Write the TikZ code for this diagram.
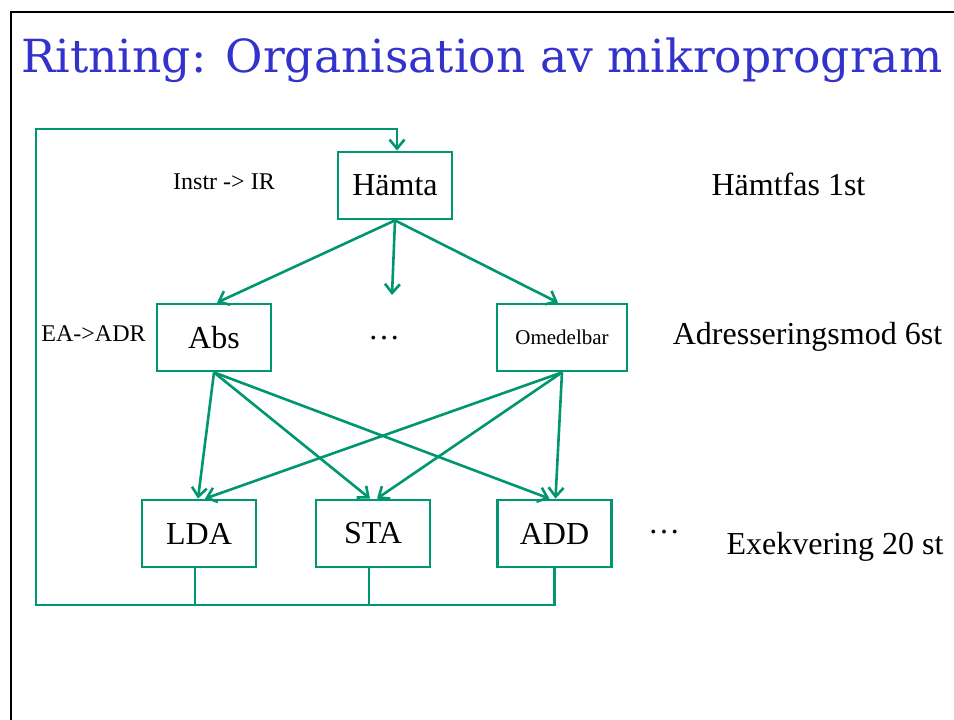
\documentclass[tikz,border=0pt]{standalone}
\usepackage{fontspec}
\setmainfont{Liberation Serif}
\newfontfamily\titlefont{DejaVu Serif}
\usetikzlibrary{arrows.meta}
\definecolor{flow}{RGB}{0,150,112}
\definecolor{heading}{RGB}{51,51,204}
\tikzset{
  stage/.style={draw=flow, line width=2.8pt, minimum width=114pt, minimum height=67pt,
                inner sep=0pt, font=\fontsize{32}{38}\selectfont},
  wide/.style={minimum width=130pt},
  note/.style={inner sep=0pt, font=\fontsize{32}{38}\selectfont},
  small/.style={inner sep=0pt, font=\fontsize{24}{28}\selectfont},
  link/.style={draw=flow, line width=2.6pt, -{Straight Barb[length=9pt,width=15pt,line width=2.6pt]}},
  bus/.style={draw=flow, line width=2.8pt}
}
\begin{document}
\begin{tikzpicture}[x=1pt, y=-1pt]
  \useasboundingbox (0,0) rectangle (954,720);
  % slide frame
  \draw[line width=2.2pt] (11,720) -- (11,12) -- (954,12);
  % heading
  \node[anchor=base west, inner sep=0pt, text=heading] (title) at (21,72)
    {\resizebox{921pt}{!}{\titlefont Ritning: Organisation av mikroprogram}};

  % fetch stage
  \node[stage] (fetch) at (395,185.5) {Hämta};
  \node[small] (instr) at (224,182) {Instr -> IR};
  \node[note] (fetchlbl) at (788.5,184) {Hämtfas 1st};

  % addressing modes
  \node[stage] (abs) at (214,337.5) {Abs};
  \node[stage, wide, font=\fontsize{21}{25}\selectfont] (imm) at (562,337.5) {Omedelbar};
  \node[note] (moredots) at (384,338) {…};
  \node[small] (ea) at (93.5,333.5) {EA->ADR};
  \node[note] (modelbl) at (807.5,337) {Adresseringsmod 6st};
  \coordinate (midend) at (392,295);

  % execution
  \node[stage] (lda) at (199,533.5) {LDA};
  \node[stage] (sta) at (373,533.5) {STA};
  \node[stage] (add) at (554.5,533.5) {ADD};
  \node[note] (execdots) at (664,532) {…};
  \node[note] (execlbl) at (835,547) {Exekvering 20 st};

  % fetch -> addressing
  \draw[link] (fetch.south) -- ([xshift=3pt]abs.north);
  \draw[link] (fetch.south) -- (midend);
  \draw[link] (fetch.south) -- ([xshift=-4pt]imm.north);

  % addressing -> execution
  \draw[link] (abs.south) -- ([xshift=-1pt]lda.north);
  \draw[link] (abs.south) -- ([xshift=-3pt]sta.north);
  \draw[link] (abs.south) -- ([xshift=-5pt]add.north);
  \draw[link] (imm.south) -- ([xshift=6pt]lda.north);
  \draw[link] (imm.south) -- ([xshift=4pt]sta.north);
  \draw[link] (imm.south) -- ([xshift=1pt]add.north);

  % return path to fetch
  \coordinate (bl) at (36,605);
  \coordinate (tl) at (36,129);
  \draw[bus] ([xshift=-4pt]lda.south) -- ([xshift=-4pt]lda.south |- bl);
  \draw[bus] ([xshift=-4pt]sta.south) -- ([xshift=-4pt]sta.south |- bl);
  \draw[bus, line join=miter] (add.south) -- (add.south |- bl) -- (bl) -- (tl) -- ([xshift=3.4pt]tl -| fetch.north);
  \draw[link] ([xshift=2pt]tl -| fetch.north) -- ([xshift=2pt]fetch.north);
\end{tikzpicture}
\end{document}
